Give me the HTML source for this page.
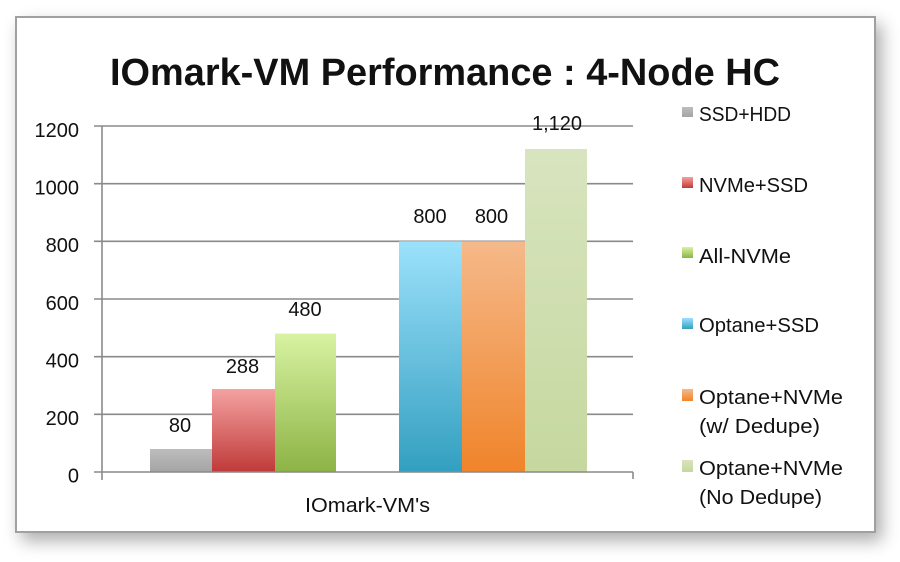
<!DOCTYPE html>
<html>
<head>
<meta charset="utf-8">
<style>
  html, body { margin: 0; padding: 0; background: #ffffff; }
  body { width: 900px; height: 562px; position: relative; overflow: hidden; }
  .frame {
    position: absolute; left: 15px; top: 16px; width: 857px; height: 513px;
    border: 2px solid #a0a0a0; background: #ffffff;
    box-shadow: 6px 8px 16px rgba(0,0,0,0.32);
  }
  svg { position: absolute; left: 0; top: 0; }
  text { font-family: "Liberation Sans", sans-serif; fill: #111; }
</style>
</head>
<body>
<div class="frame"></div>
<svg width="900" height="562" viewBox="0 0 900 562" xmlns="http://www.w3.org/2000/svg">
  <defs>
    <linearGradient id="gGray" x1="0" y1="0" x2="0" y2="1">
      <stop offset="0" stop-color="#bdbdbd"/><stop offset="1" stop-color="#a4a4a4"/>
    </linearGradient>
    <linearGradient id="gRed" x1="0" y1="0" x2="0" y2="1">
      <stop offset="0" stop-color="#f4a2a1"/><stop offset="1" stop-color="#bf3a39"/>
    </linearGradient>
    <linearGradient id="gGreen" x1="0" y1="0" x2="0" y2="1">
      <stop offset="0" stop-color="#d8f3a2"/><stop offset="1" stop-color="#8db345"/>
    </linearGradient>
    <linearGradient id="gBlue" x1="0" y1="0" x2="0" y2="1">
      <stop offset="0" stop-color="#9ce1fb"/><stop offset="1" stop-color="#339fc0"/>
    </linearGradient>
    <linearGradient id="gOrange" x1="0" y1="0" x2="0" y2="1">
      <stop offset="0" stop-color="#f5b98a"/><stop offset="1" stop-color="#f0842a"/>
    </linearGradient>
    <linearGradient id="gLight" x1="0" y1="0" x2="0" y2="1">
      <stop offset="0" stop-color="#d8e4bf"/><stop offset="1" stop-color="#c6d89f"/>
    </linearGradient>
  </defs>

  <!-- Title -->
  <text x="445" y="85" text-anchor="middle" font-size="38" font-weight="bold" textLength="670" lengthAdjust="spacingAndGlyphs">IOmark-VM Performance : 4-Node HC</text>

  <!-- Gridlines -->
  <g stroke="#8a8a8a" stroke-width="1.6">
    <line x1="94" y1="126" x2="633" y2="126"/>
    <line x1="94" y1="183.7" x2="633" y2="183.7"/>
    <line x1="94" y1="241.3" x2="633" y2="241.3"/>
    <line x1="94" y1="299" x2="633" y2="299"/>
    <line x1="94" y1="356.7" x2="633" y2="356.7"/>
    <line x1="94" y1="414.3" x2="633" y2="414.3"/>
  </g>

  <!-- Bars -->
  <g>
    <rect x="150" y="449" width="62" height="23" fill="url(#gGray)"/>
    <rect x="212" y="389" width="63" height="83" fill="url(#gRed)"/>
    <rect x="275" y="333.6" width="61" height="138.4" fill="url(#gGreen)"/>
    <rect x="399" y="241.3" width="63" height="230.7" fill="url(#gBlue)"/>
    <rect x="462" y="241.3" width="63" height="230.7" fill="url(#gOrange)"/>
    <rect x="525" y="149" width="62" height="323" fill="url(#gLight)"/>
  </g>

  <!-- Axes -->
  <g stroke="#8a8a8a" stroke-width="1.6">
    <line x1="102" y1="126" x2="102" y2="480"/>
    <line x1="94" y1="472" x2="633" y2="472"/>
    <line x1="633" y1="472" x2="633" y2="479"/>
  </g>

  <!-- Y tick labels -->
  <g font-size="20" text-anchor="end">
    <text x="79" y="137">1200</text>
    <text x="79" y="194.5">1000</text>
    <text x="79" y="252">800</text>
    <text x="79" y="310">600</text>
    <text x="79" y="367.5">400</text>
    <text x="79" y="425">200</text>
    <text x="79" y="482.5">0</text>
  </g>

  <!-- Data labels -->
  <g font-size="20" text-anchor="middle">
    <text x="180" y="432">80</text>
    <text x="242.5" y="373">288</text>
    <text x="305" y="316">480</text>
    <text x="430" y="223">800</text>
    <text x="491.5" y="223">800</text>
    <text x="557" y="130">1,120</text>
  </g>

  <!-- X axis title -->
  <text x="367.5" y="512" font-size="20" text-anchor="middle" textLength="125" lengthAdjust="spacingAndGlyphs">IOmark-VM's</text>

  <!-- Legend -->
  <g>
    <rect x="682" y="107" width="11" height="10" fill="url(#gGray)"/>
    <rect x="682" y="177" width="11" height="11" fill="url(#gRed)"/>
    <rect x="682" y="247" width="11" height="11" fill="url(#gGreen)"/>
    <rect x="682" y="318" width="11" height="11" fill="url(#gBlue)"/>
    <rect x="682" y="389" width="11" height="12" fill="url(#gOrange)"/>
    <rect x="682" y="460" width="11" height="12" fill="url(#gLight)"/>
  </g>
  <g font-size="20">
    <text x="699" y="121" textLength="92" lengthAdjust="spacingAndGlyphs">SSD+HDD</text>
    <text x="699" y="192" textLength="109" lengthAdjust="spacingAndGlyphs">NVMe+SSD</text>
    <text x="699" y="263" textLength="92" lengthAdjust="spacingAndGlyphs">All-NVMe</text>
    <text x="699" y="332" textLength="120" lengthAdjust="spacingAndGlyphs">Optane+SSD</text>
    <text x="699" y="404" textLength="144" lengthAdjust="spacingAndGlyphs">Optane+NVMe</text>
    <text x="699" y="433" textLength="121" lengthAdjust="spacingAndGlyphs">(w/ Dedupe)</text>
    <text x="699" y="475" textLength="144" lengthAdjust="spacingAndGlyphs">Optane+NVMe</text>
    <text x="699" y="504" textLength="123" lengthAdjust="spacingAndGlyphs">(No Dedupe)</text>
  </g>
</svg>
</body>
</html>
